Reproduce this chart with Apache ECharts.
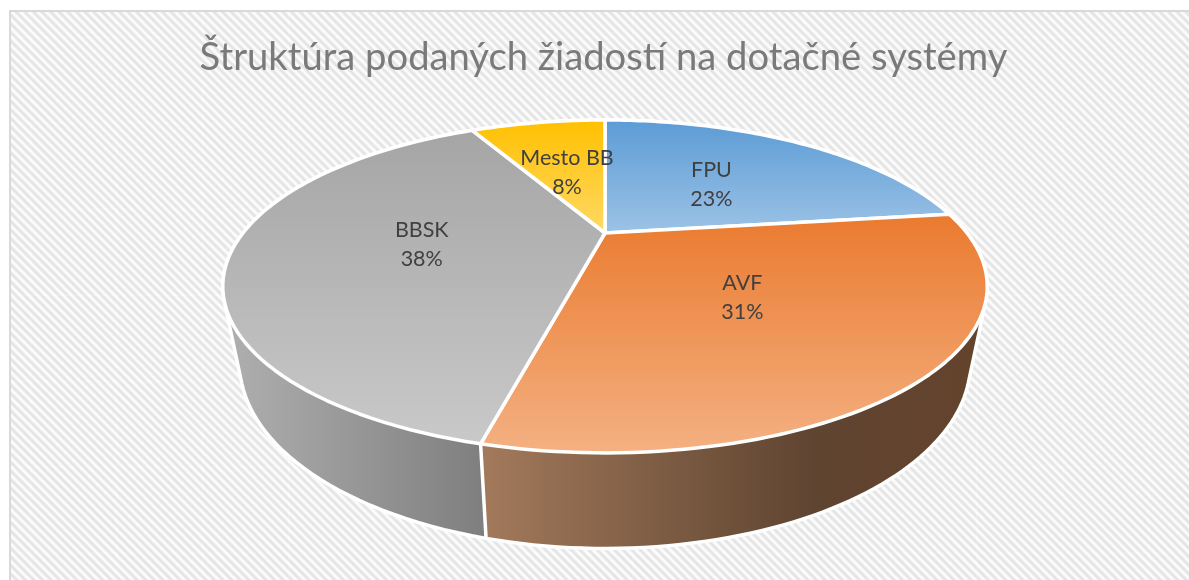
<!DOCTYPE html>
<html>
<head>
<meta charset="utf-8">
<title>Štruktúra podaných žiadostí</title>
<script src="https://cdn.jsdelivr.net/npm/echarts@6/dist/echarts.min.js"></script>
<style>
html,body{margin:0;padding:0;background:#fff;overflow:hidden}
#chart{width:1189px;height:580px}
</style>
</head>
<body>
<div id="chart"></div>
<script>
var chartTitle = "Štruktúra podaných žiadostí na dotačné systémy";
var categories = ["FPU", "AVF", "BBSK", "Mesto BB"];
// podiely odčítané z obrázka, popisky sú zaokrúhlené
var shares = [22.9, 30.9, 38.4, 7.8];
var percentLabels = ["23%", "31%", "38%", "8%"];

var faceColors = [["#5b9bd5", "#9dc3e6"], ["#ea7a2e", "#f4b183"], ["#a5a5a5", "#c9c9c9"], ["#ffc000", "#ffd966"]];
var wallStops = [
  [[0, "#5b9bd5"], [1, "#3a6a96"]],
  [[0, "#a47a5c"], [0.42, "#76573f"], [0.66, "#5f4431"], [1, "#65432c"]],
  [[0, "#b0b0b0"], [1, "#7e7e7e"]],
  [[0, "#bf9000"], [1, "#a07a00"]]
];

// perspektiva kruhu
var cx = 605, k = 0.321;
var top_ = {a: 362, b: 149.3, y: 233};
var bot = {a: 346, b: 166, y: 304};

var total = 0;
for (var i = 0; i < shares.length; i++) total += shares[i];
var starts = [], ends = [], acc = 0;
for (var i = 0; i < shares.length; i++) {
  starts.push(acc / total * Math.PI * 2);
  acc += shares[i];
  ends.push(acc / total * Math.PI * 2);
}

function project(p, ang, r) {
  var u = r * Math.sin(ang), v = r * Math.cos(ang), w = 1 + k * v;
  return [cx + p.a * u / w, p.y - p.b * v / w];
}
function arc(p, a0, a1) {
  var pts = [], n = 80;
  for (var j = 0; j <= n; j++) pts.push(project(p, a0 + (a1 - a0) * j / n, 1));
  return pts;
}
function hull(pts) {
  pts = pts.slice().sort(function (a, b) { return a[0] - b[0] || a[1] - b[1]; });
  function cross(o, a, b) { return (a[0] - o[0]) * (b[1] - o[1]) - (a[1] - o[1]) * (b[0] - o[0]); }
  var lo = [], up = [];
  for (var i = 0; i < pts.length; i++) {
    while (lo.length > 1 && cross(lo[lo.length - 2], lo[lo.length - 1], pts[i]) <= 0) lo.pop();
    lo.push(pts[i]);
  }
  for (var i = pts.length - 1; i >= 0; i--) {
    while (up.length > 1 && cross(up[up.length - 2], up[up.length - 1], pts[i]) <= 0) up.pop();
    up.push(pts[i]);
  }
  lo.pop(); up.pop();
  return lo.concat(up);
}

// šrafované pozadie
function makeTile() {
  var size = 86, c = document.createElement("canvas");
  c.width = size; c.height = size;
  var ctx = c.getContext("2d"), img = ctx.createImageData(size, size);
  for (var y = 0; y < size; y++) {
    for (var x = 0; x < size; x++) {
      var t = (x - y + 860) % 8.6 / 8.6;
      var g = 240 + 13 * Math.cos(t * Math.PI * 2);
      if (x == 30 || y == 37) g = Math.min(255, g + 3);
      var id = (y * size + x) * 4;
      img.data[id] = img.data[id + 1] = img.data[id + 2] = g;
      img.data[id + 3] = 255;
    }
  }
  ctx.putImageData(img, 0, 0);
  return c;
}

var data = [];
for (var i = 0; i < categories.length; i++) data.push([i, shares[i]]);
// skryté steny najskôr
var wallOrder = [0, 3, 2, 1];

var chart = echarts.init(document.getElementById("chart"));
var option = {
  animation: false,
  backgroundColor: "#fff",
  title: {
    text: chartTitle,
    left: 598.5,
    top: 34,
    textAlign: "center",
    textStyle: {color: "#7a7a7a", fontFamily: "Lato", fontWeight: 400, fontSize: 38.2}
  },
  graphic: [{
    type: "rect",
    z: -10,
    shape: {x: 10, y: 11, width: 1200, height: 600},
    style: {fill: {image: makeTile(), repeat: "repeat"}, stroke: "#d9d9d9", lineWidth: 2}
  }],
  series: [{
    type: "custom",
    name: "steny",
    coordinateSystem: "none",
    z: 2,
    data: wallOrder.map(function (i) { return data[i]; }),
    renderItem: function (params, api) {
      var i = api.value(0);
      var pts = hull(arc(top_, starts[i], ends[i]).concat(arc(bot, starts[i], ends[i])));
      return {
        type: "polygon",
        shape: {points: pts},
        style: {
          fill: new echarts.graphic.LinearGradient(0, 0, 1, 0, wallStops[i].map(function (s) { return {offset: s[0], color: s[1]}; })),
          stroke: "#fff", lineWidth: 3.5, lineJoin: "round"
        }
      };
    }
  }, {
    type: "custom",
    name: "plochy",
    coordinateSystem: "none",
    z: 3,
    data: data,
    renderItem: function (params, api) {
      var i = api.value(0);
      var pts = [[cx, top_.y]].concat(arc(top_, starts[i], ends[i]));
      return {
        type: "polygon",
        shape: {points: pts},
        style: {
          fill: new echarts.graphic.LinearGradient(0, 0, 0, 1, [{offset: 0, color: faceColors[i][0]}, {offset: 1, color: faceColors[i][1]}]),
          stroke: "#fff", lineWidth: 3.5, lineJoin: "round"
        }
      };
    }
  }, {
    type: "custom",
    name: "popisky",
    coordinateSystem: "none",
    z: 4,
    data: data,
    renderItem: function (params, api) {
      var i = api.value(0);
      var p = project(top_, (starts[i] + ends[i]) / 2, 0.5);
      return {
        type: "text",
        x: p[0],
        y: p[1] + 2,
        style: {
          text: categories[i] + "\n" + percentLabels[i],
          fill: "#404040",
          font: "21.5px Lato",
          lineHeight: 29,
          align: "center",
          verticalAlign: "middle"
        }
      };
    }
  }]
};
chart.setOption(option);
</script>
</body>
</html>
